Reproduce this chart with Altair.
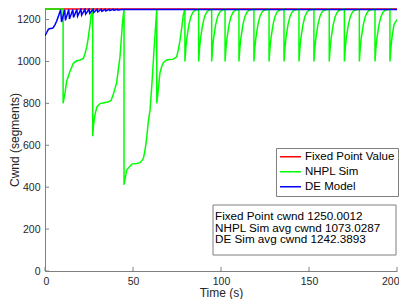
import altair as alt
import pandas as pd

FONT = "Liberation Sans"
W, H = 352, 263

series_names = ["Fixed Point Value", "NHPL Sim", "DE Model"]
series_colors = ["#ff0000", "#00ff00", "#0000ff"]

x_ticks = [0, 50, 100, 150, 200]
y_ticks = [0, 200, 400, 600, 800, 1000, 1200]

annot_lines = [
    "Fixed Point cwnd 1250.0012",
    "NHPL Sim avg cwnd 1073.0287",
    "DE Sim avg cwnd 1242.3893",
]

# Fixed point value
fixed_t = [0, 200]
fixed_v = [1250, 1250]

# NHPL simulation: early large drops
nhpl_early_t = [0, 10.3, 10.3, 11.4, 12.3, 14.2, 16.1, 18.0, 19.9, 21.8, 22.7, 23.7, 24.6, 25.6, 26.5, 27.1,
                27.1, 27.6, 28.4, 29.5, 31.25, 33.5, 35.8, 37.5, 38.6, 40.7, 42.6, 44.1, 44.9,
                44.9, 46.4, 49.3, 52.1, 54.0, 55.85, 56.8, 57.8, 58.7, 59.7, 60.8, 61.9, 63.1, 63.5,
                63.5, 64.4, 65.3, 66.3, 67.2, 69.1, 71.0, 72.9, 74.8, 75.7, 76.7, 77.7, 78.6, 79.5]
nhpl_early_v = [1250, 1250, 800, 852, 906, 953, 991, 1003, 1007, 1014, 1037, 1068, 1114, 1176, 1245, 1250,
                643, 700, 745, 783, 799, 803, 806, 814, 837, 899, 1022, 1192, 1250,
                411, 482, 510, 513, 517, 536, 575, 638, 713, 770, 900, 1050, 1200, 1250,
                800, 868, 945, 976, 994, 1007, 1009, 1011, 1022, 1053, 1099, 1161, 1222, 1250]

# NHPL regular sawtooth: drop times and one read rise profile
saw_drop_t = [79.5, 87.3, 94.7, 102.3, 110.2, 118.7, 127.3, 135.8, 144.3, 152.8,
              161.5, 170.1, 178.6, 187.5, 196.0]
saw_floor = 1000
saw_rise_dt = [0.57, 1.14, 2.27, 3.4, 4.55, 5.7]
saw_rise_v = [1068, 1114, 1176, 1215, 1235, 1244]
saw_top = 1250
nhpl_end_t = 200
nhpl_end_v = 1200

# DE model
de_t = [0, 1.0, 1.9, 2.8, 3.8, 4.7, 5.7, 6.6, 7.6, 8.5,
        8.9, 9.4, 11.2, 11.6, 13.5, 13.9, 15.8, 16.2, 18.1, 18.5, 20.4, 20.8,
        22.7, 23.1, 25.0, 25.4, 27.3, 27.7, 29.6, 30.0, 31.9, 32.3, 34.2, 34.6,
        36.5, 36.9, 38.8, 39.2, 41.1, 41.5,
        43.4, 60, 100, 150, 200]
de_v = [1123, 1138, 1153, 1157, 1157, 1161, 1176, 1192, 1215, 1238,
        1246, 1188, 1247, 1196, 1248, 1203, 1248, 1210, 1249, 1216, 1249, 1221,
        1249, 1226, 1249, 1230, 1249, 1233, 1249, 1236, 1249, 1239, 1249, 1241,
        1249, 1243, 1249, 1244, 1249, 1245,
        1248, 1248, 1248, 1248, 1248]

# assemble NHPL series
nt = list(nhpl_early_t)
nv = list(nhpl_early_v)
for k, d in enumerate(saw_drop_t):
    nxt = saw_drop_t[k + 1] if k + 1 < len(saw_drop_t) else None
    nt.append(d); nv.append(saw_floor)
    limit = (nxt - d) if nxt is not None else (nhpl_end_t - d - 1.0)
    for dt, v in zip(saw_rise_dt, saw_rise_v):
        if dt < limit:
            nt.append(d + dt); nv.append(v)
    if nxt is not None:
        nt.append(nxt); nv.append(saw_top)
nt.append(nhpl_end_t); nv.append(nhpl_end_v)


def frame(ts, vs, name):
    return pd.DataFrame({"x": ts, "y": vs, "series": name, "i": list(range(len(ts)))})


xscale = alt.Scale(domain=[0, 200], nice=False, zero=False)
yscale = alt.Scale(domain=[0, 1255], nice=False, zero=False)

X = alt.X("x:Q", scale=xscale, axis=alt.Axis(
    values=x_ticks, title="Time (s)", ticks=False, grid=False, format="d",
    domainColor="#808080", domainWidth=1,
    labelFont=FONT, labelFontSize=10.5, labelColor="#262626", labelPadding=5,
    labelFlush=True, labelFlushOffset=2,
    titleFont=FONT, titleFontSize=12, titleFontWeight="normal", titleColor="#262626", titlePadding=1))
Y = alt.Y("y:Q", scale=yscale, axis=alt.Axis(
    values=y_ticks, title="Cwnd (segments)", ticks=False, grid=False, format="d",
    domainColor="#808080", domainWidth=1,
    labelFont=FONT, labelFontSize=10.5, labelColor="#262626", labelPadding=5, labelFlush=False,
    titleFont=FONT, titleFontSize=12, titleFontWeight="normal", titleColor="#262626",
    titleX=-24, titleBaseline="bottom"))
C = alt.Color("series:N", scale=alt.Scale(domain=series_names, range=series_colors),
              legend=alt.Legend(title=None, orient="none", legendX=231, legendY=140,
                                symbolType="stroke", symbolSize=441, symbolStrokeWidth=1.5,
                                clipHeight=11.5,
                                labelFont=FONT, labelFontSize=11.5, labelColor="black",
                                labelOffset=3, rowPadding=2, padding=3,
                                strokeColor="#7f7f7f", fillColor="white", cornerRadius=0))


def line(df):
    return alt.Chart(df).mark_line(strokeWidth=1.5, clip=True).encode(
        x=X, y=Y, color=C, order=alt.Order("i:Q"))


red = line(frame(fixed_t, fixed_v, series_names[0]))
green = line(frame(nt, nv, series_names[1]))
blue = line(frame(de_t, de_v, series_names[2]))

xtick_rules = alt.Chart(pd.DataFrame({"x": x_ticks})).mark_rule(color="#808080", strokeWidth=1).encode(
    x=X, y=alt.value(H), y2=alt.value(H - 4))
ytick_rules = alt.Chart(pd.DataFrame({"y": y_ticks})).mark_rule(color="#808080", strokeWidth=1).encode(
    y=Y, x=alt.value(0), x2=alt.value(4))

one = pd.DataFrame({"a": [0]})
box = alt.Chart(one).mark_rect(fill="white", stroke="#7f7f7f", strokeWidth=1).encode(
    x=alt.value(168), x2=alt.value(351), y=alt.value(197), y2=alt.value(247))
texts = [
    alt.Chart(one).mark_text(text=s, align="left", baseline="middle", font=FONT,
                             fontSize=11.7, color="black").encode(
        x=alt.value(170), y=alt.value(208 + 11.7 * i))
    for i, s in enumerate(annot_lines)
]

chart = alt.layer(red, green, blue, xtick_rules, ytick_rules, box, *texts).properties(
    width=W, height=H,
    autosize=alt.AutoSizeParams(type="none"),
    padding={"left": 37, "top": 0, "right": 2, "bottom": 28},
).configure_view(stroke=None)

chart.save("out.html", embed_options={"renderer": "svg", "actions": False})
